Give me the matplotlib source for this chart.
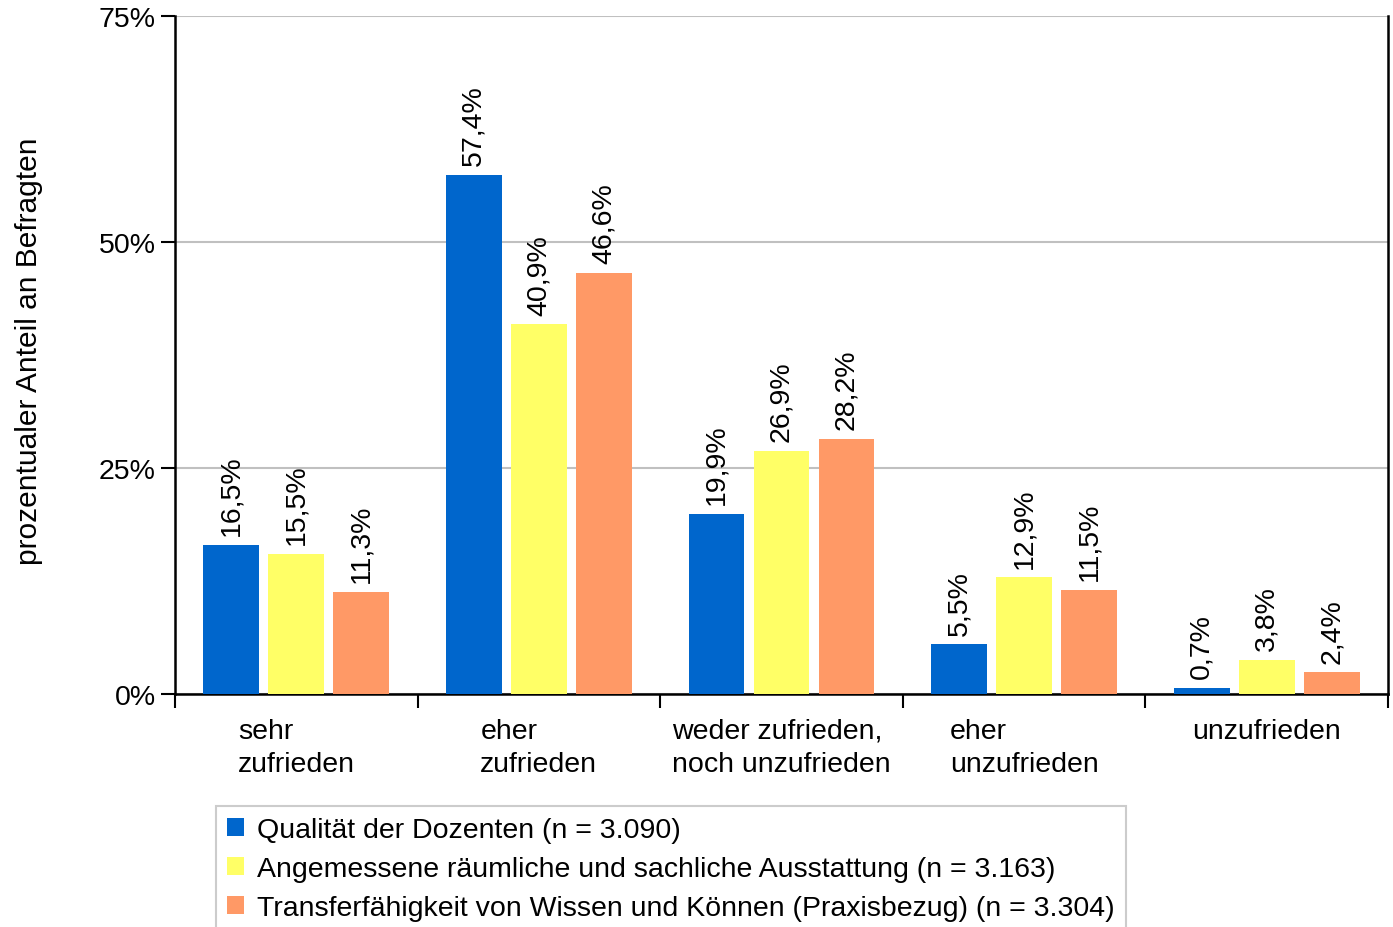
import numpy as np
import matplotlib
matplotlib.use('Agg')
import matplotlib.pyplot as plt

plt.rcParams['font.family'] = ['Liberation Sans', 'DejaVu Sans']

# Daten aus dem Diagramm
kategorien = ['sehr\nzufrieden', 'eher\nzufrieden', 'weder zufrieden,\nnoch unzufrieden',
              'eher\nunzufrieden', 'unzufrieden']
serien = ['Qualität der Dozenten (n = 3.090)',
          'Angemessene räumliche und sachliche Ausstattung (n = 3.163)',
          'Transferfähigkeit von Wissen und Können (Praxisbezug) (n = 3.304)']
dozenten = [16.5, 57.4, 19.9, 5.5, 0.7]
ausstattung = [15.5, 40.9, 26.9, 12.9, 3.8]
praxisbezug = [11.3, 46.6, 28.2, 11.5, 2.4]
farben = ['#0066CC', '#FFFF66', '#FF9966']

fig = plt.figure(figsize=(13.93, 9.28), dpi=100)
ax = fig.add_axes([0.1256, 0.2511, 0.8708, 0.7306])

x = np.arange(len(kategorien)) + 0.5
breite = 0.23
abstand = 0.268

for i, (werte, name, farbe) in enumerate(zip([dozenten, ausstattung, praxisbezug], serien, farben)):
    pos = x + (i - 1) * abstand
    ax.bar(pos, werte, width=breite, color=farbe, label=name, zorder=3)
    for p, w in zip(pos, werte):
        ax.annotate(f'{w:.1f}%'.replace('.', ','), (p, w), xytext=(0, 7),
                    textcoords='offset points', rotation=90, ha='center', va='bottom',
                    fontsize=20.5)

ax.set_xlim(0, 5)
ax.set_ylim(0, 75)
ax.set_yticks([0, 25, 50, 75])
ax.set_yticklabels(['0%', '25%', '50%', '75%'], fontsize=20.5)
ax.yaxis.grid(True, color='#c0c0c0', linewidth=1.5, zorder=0)
ax.set_xticks([0, 1, 2, 3, 4, 5])
ax.set_xticklabels([])
ax.set_xticks(x, minor=True)
ax.set_xticklabels(kategorien, minor=True, fontsize=20.5, multialignment='left',
                   linespacing=1.38)
ax.tick_params(axis='x', which='minor', length=0, pad=17)
ax.tick_params(axis='x', which='major', length=10, width=1.5, direction='out')
ax.tick_params(axis='y', length=10, width=1.5, direction='out', pad=4)

for s in ['left', 'bottom', 'right']:
    ax.spines[s].set_linewidth(1.8)
    ax.spines[s].set_color('black')
ax.spines['top'].set_visible(False)

fig.text(0.021, 0.622, 'prozentualer Anteil an Befragten', rotation=90,
         ha='center', va='center', fontsize=21.5)

leg = fig.legend(loc='upper left', bbox_to_anchor=(216 / 1393, 1 - 807 / 928),
                 fontsize=20.5, frameon=True, fancybox=False, edgecolor='#c0c0c0',
                 handlelength=0.6, handleheight=0.6, handletextpad=0.45,
                 labelspacing=0.45, borderaxespad=0, borderpad=0.4)
leg.get_frame().set_linewidth(1.5)

fig.savefig('out.png', dpi=100)
